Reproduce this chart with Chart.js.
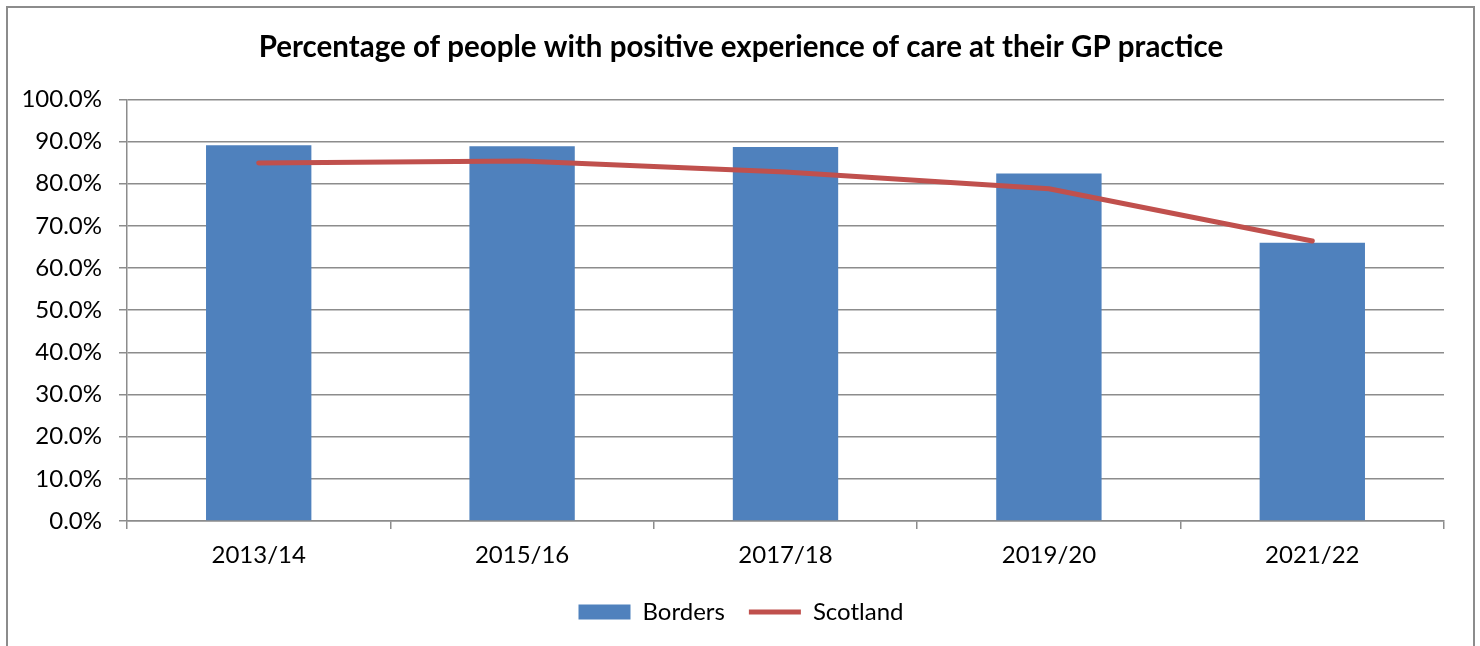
<!DOCTYPE html>
<html>
<head>
<meta charset="utf-8">
<script src="https://cdn.jsdelivr.net/npm/chart.js@4/dist/chart.umd.min.js"></script>
<style>
  html, body { margin: 0; padding: 0; background: #fff; }
  #frame {
    position: absolute; left: 6px; top: 6px;
    width: 1465px; height: 700px;
    border: 2px solid #8c8c8c;
  }
  #wrap { position: absolute; left: 0; top: 0; width: 1480px; height: 646px; }
</style>
</head>
<body>
<div id="frame"></div>
<div id="wrap"><canvas id="gpChart"></canvas></div>
<script>
const years = ["2013/14", "2015/16", "2017/18", "2019/20", "2021/22"];
const borders = [89.1, 88.9, 88.7, 82.4, 66.0];
const scotland = [84.9, 85.4, 82.8, 78.8, 66.4];
const titleText = "Percentage of people with positive experience of care at their GP practice";

Chart.defaults.font.family = "Lato, 'Noto Sans', sans-serif";
Chart.defaults.color = "#000";

const ctx = document.getElementById("gpChart");

new Chart(ctx, {
    type: "bar",
    data: {
        labels: years,
        datasets: [
            {
                type: "line",
                label: "Scotland",
                data: scotland,
                borderColor: "#C0504D",
                backgroundColor: "#C0504D",
                borderWidth: 5,
                borderCapStyle: "round",
                borderJoinStyle: "round",
                pointRadius: 0,
                pointHoverRadius: 0,
                pointStyle: "line",
                tension: 0,
                order: 0
            },
            {
                label: "Borders",
                data: borders,
                backgroundColor: "#4F81BD",
                borderWidth: 0,
                pointStyle: "rect",
                barPercentage: 0.4,
                categoryPercentage: 1,
                order: 1
            }
        ]
    },
    options: {
        responsive: true,
        maintainAspectRatio: false,
        animation: false,
        layout: { padding: { left: 22, right: 20, top: 0, bottom: 12 } },
        plugins: {
            title: {
                display: true,
                text: titleText,
                font: { size: 29.5, weight: "bold" },
                padding: { top: 30, bottom: 34 }
            },
            legend: {
                position: "bottom",
                reverse: true,
                labels: {
                    usePointStyle: true,
                    pointStyleWidth: 52,
                    boxHeight: 15,
                    font: { size: 24 },
                    padding: 24
                }
            },
            tooltip: { enabled: false }
        },
        scales: {
            x: {
                grid: {
                    offset: true,
                    drawOnChartArea: false,
                    drawTicks: true,
                    tickLength: 8,
                    color: "#8c8c8c",
                    lineWidth: 1.5
                },
                border: { color: "#8c8c8c", width: 1.5 },
                ticks: { font: { size: 24 }, padding: 12 },
                afterFit: scale => { scale.height = 55; }
            },
            y: {
                min: 0,
                max: 100,
                grid: {
                    color: "#8c8c8c",
                    lineWidth: 1.5,
                    tickLength: 8
                },
                border: { color: "#8c8c8c", width: 1.5 },
                ticks: {
                    stepSize: 10,
                    font: { size: 24 },
                    padding: 17,
                    callback: v => v.toFixed(1) + "%"
                },
                afterFit: scale => { scale.width = 105; }
            },
            // empty right-hand axis, only used as a spacer so the plot ends short of the frame
            spacer: {
                position: "right",
                grid: { display: false },
                border: { display: false },
                ticks: { display: false },
                afterFit: scale => { scale.width = 16; }
            }
        }
    }
});
</script>
</body>
</html>
